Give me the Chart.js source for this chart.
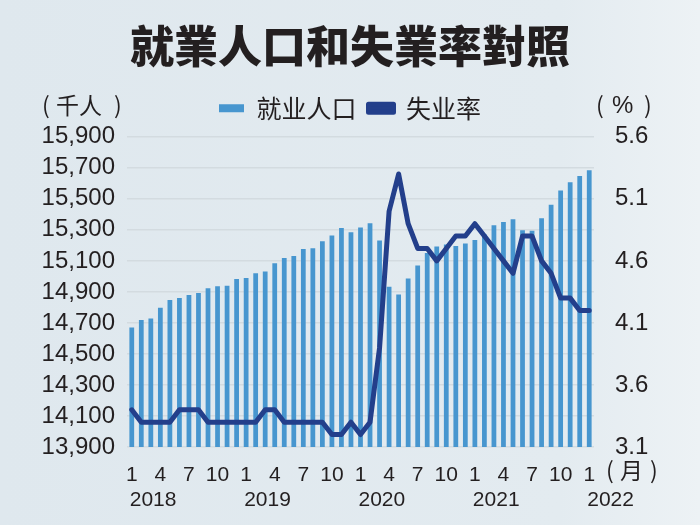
<!DOCTYPE html>
<html>
<head>
<meta charset="utf-8">
<script src="https://cdn.jsdelivr.net/npm/chart.js@4"></script>
<style>
  html, body { margin: 0; padding: 0; }
  body {
    width: 700px; height: 525px; overflow: hidden;
    background: linear-gradient(90deg, #dfe8ee 0%, #e3ebf0 80%, #edf2f5 100%);
  }
  #wrap { width: 700px; height: 525px; }
</style>
</head>
<body>
<div id="wrap"><canvas id="myChart" width="700" height="525"></canvas></div>
<script>
// months Jan 2018 .. Jan 2022
const months = [1,2,3,4,5,6,7,8,9,10,11,12, 1,2,3,4,5,6,7,8,9,10,11,12,
                1,2,3,4,5,6,7,8,9,10,11,12, 1,2,3,4,5,6,7,8,9,10,11,12, 1];
const yearLabels = ['2018', '2019', '2020', '2021', '2022'];
const yearStart = [0, 12, 24, 36, 48];

// employed persons (thousand)
const employed = [14670, 14719, 14728, 14798, 14848, 14861, 14880, 14893, 14923, 14936, 14940, 14983,
                  14989, 15021, 15032, 15085, 15119, 15132, 15177, 15181, 15226, 15263, 15312, 15284,
                  15316, 15342, 15231, 14933, 14884, 14987, 15070, 15151, 15192, 15205, 15196, 15212,
                  15235, 15270, 15329, 15350, 15368, 15297, 15295, 15375, 15462, 15554, 15607, 15648,
                  15684];

// unemployment rate (%)
const unemployment = [3.4, 3.3, 3.3, 3.3, 3.3, 3.4, 3.4, 3.4, 3.3, 3.3, 3.3, 3.3,
                      3.3, 3.3, 3.4, 3.4, 3.3, 3.3, 3.3, 3.3, 3.3, 3.2, 3.2, 3.3,
                      3.2, 3.3, 3.9, 5.0, 5.3, 4.9, 4.7, 4.7, 4.6, 4.7, 4.8, 4.8,
                      4.9, 4.8, 4.7, 4.6, 4.5, 4.8, 4.8, 4.6, 4.5, 4.3, 4.3, 4.2,
                      4.2];

const shownMonths = [1, 4, 7, 10];

const numFont = 'Liberation Sans, Arial, sans-serif';
const cjkSC = '"Noto Sans CJK SC", sans-serif';
const cjkTC = '"Noto Sans CJK TC", sans-serif';
const ink = '#231f20';

// leave a little more room under the legend
const legendGap = {
    id: 'legendGap',
    afterInit(chart) {
        const lg = chart.legend;
        if (!lg) return;
        const orig = lg.fit.bind(lg);
        lg.fit = function() { orig(); this.height += 6; };
    }
};

// unit labels, years and (月)
const extraText = {
    id: 'extraText',
    afterDraw(chart) {
        const c = chart.ctx;
        const x = chart.scales.x;
        c.save();
        c.fillStyle = ink;
        c.textBaseline = 'middle';
        c.textAlign = 'left';
        c.font = '23px ' + cjkTC;
        c.fillText('(', 42, 105);
        c.fillText('千人', 56, 105);
        c.fillText(')', 114, 105);
        c.fillText('(', 596, 105);
        c.fillText(')', 644, 105);
        c.fillText('(', 606, 470);
        c.fillText('月', 620, 470);
        c.fillText(')', 650, 470);
        c.font = '24px ' + numFont;
        c.fillText('%', 612, 106);
        c.font = '21px ' + numFont;
        yearStart.forEach((idx, i) => {
            c.fillText(yearLabels[i], x.getPixelForValue(idx) - 2, 500);
        });
        c.restore();
    }
};

const ctx = document.getElementById('myChart').getContext('2d');
const myChart = new Chart(ctx, {
    type: 'bar',
    data: {
        labels: months,
        datasets: [
            {
                type: 'bar',
                label: '就业人口',
                data: employed,
                backgroundColor: '#4796cf',
                borderWidth: 0,
                barPercentage: 0.5,
                categoryPercentage: 1.0,
                yAxisID: 'y',
                order: 2
            },
            {
                type: 'line',
                label: '失业率',
                data: unemployment,
                borderColor: '#233f8b',
                backgroundColor: '#233f8b',
                borderWidth: 5,
                pointRadius: 0,
                tension: 0,
                borderJoinStyle: 'round',
                borderCapStyle: 'round',
                yAxisID: 'y2',
                order: 1
            }
        ]
    },
    plugins: [legendGap, extraText],
    options: {
        responsive: false,
        animation: false,
        layout: { padding: 0 },
        plugins: {
            title: {
                display: true,
                text: '就業人口和失業率對照',
                color: ink,
                font: { family: cjkTC, size: 44, weight: 900 },
                padding: { top: 20, bottom: 11 }
            },
            legend: {
                display: true,
                position: 'top',
                labels: {
                    color: ink,
                    font: { family: cjkSC, size: 25 },
                    boxWidth: 25,
                    boxHeight: 8,
                    padding: 12,
                    sort: (a, b) => a.datasetIndex - b.datasetIndex
                }
            },
            tooltip: { enabled: false }
        },
        scales: {
            x: {
                offset: true,
                grid: { display: false },
                border: { display: false },
                ticks: {
                    color: ink,
                    font: { family: numFont, size: 21 },
                    autoSkip: false,
                    maxRotation: 0,
                    padding: 8,
                    callback: function(v, i) {
                        return shownMonths.includes(months[i]) ? String(months[i]) : '';
                    }
                },
                afterFit: (s) => { s.height = 78; }
            },
            y: {
                position: 'left',
                min: 13900,
                max: 15900,
                border: { display: false },
                grid: { color: '#d3dbe0', lineWidth: 1.5, drawTicks: false },
                ticks: {
                    stepSize: 200,
                    autoSkip: false,
                    color: ink,
                    padding: 12,
                    font: { family: numFont, size: 24 },
                    callback: (v) => v.toLocaleString('en-US')
                },
                afterFit: (s) => { s.width = 127; }
            },
            y2: {
                position: 'right',
                min: 3.1,
                max: 5.6,
                border: { display: false },
                grid: { display: false },
                ticks: {
                    stepSize: 0.25,
                    autoSkip: false,
                    color: ink,
                    padding: 13,
                    font: { family: numFont, size: 24 },
                    callback: (v, i) => (i % 2 === 0 ? Number(v).toFixed(1) : '')
                },
                afterFit: (s) => { s.width = 106; }
            }
        }
    }
});
</script>
</body>
</html>
